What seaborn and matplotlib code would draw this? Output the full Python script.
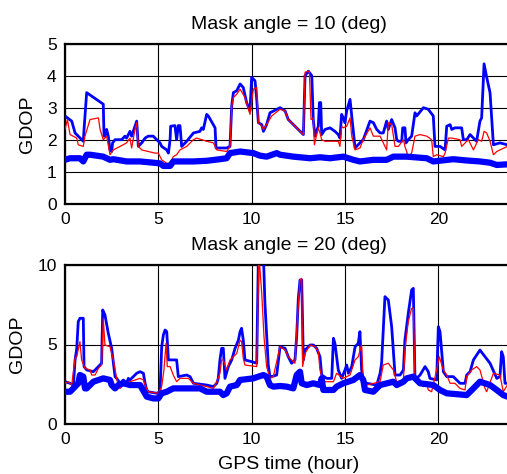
import numpy as np
import pandas as pd
import matplotlib
matplotlib.use("Agg")
import matplotlib.pyplot as plt
import seaborn as sns

# ---------------- data (GPS time in hours, GDOP) ----------------
# Mask angle = 10 deg
m10_thin_t = [0.00, 0.36, 0.54, 0.98, 1.02, 1.16, 2.05, 2.09, 2.14, 2.23, 2.32, 2.41, 2.50, 2.55, 2.68,
              3.04, 3.21, 3.30, 3.48, 3.57, 3.75, 3.84, 3.93, 4.11, 4.29, 4.46, 4.73, 4.91, 5.09, 5.18,
              5.45, 5.54, 5.63, 5.66, 5.89, 5.98, 6.07, 6.16, 6.25, 6.52, 6.88, 7.23, 7.32, 7.41, 7.59,
              7.68, 8.04, 8.09, 8.66, 8.84, 8.93, 9.02, 9.20, 9.38, 9.55, 9.73, 9.91, 10.00, 10.18, 10.27,
              10.36, 10.54, 10.63, 10.80, 10.98, 11.52, 11.79, 11.96, 12.41, 12.77, 12.86, 13.04, 13.22,
              13.30, 13.39, 13.57, 13.63, 13.70, 13.75, 13.93, 14.20, 14.46, 14.64, 14.73, 14.82, 14.91,
              15.00, 15.09, 15.27, 15.36, 15.54, 15.80, 15.98, 16.34, 16.52, 16.70, 16.88, 17.05, 17.23,
              17.32, 17.50, 17.68, 17.77, 17.86, 18.04, 18.09, 18.21, 18.27, 18.39, 18.57, 18.75, 18.84,
              19.20, 19.46, 19.73, 19.82, 20.09, 20.36, 20.45, 20.63, 20.72, 20.89, 21.25, 21.34, 21.52,
              21.70, 21.88, 22.05, 22.23, 22.32, 22.45, 22.59, 22.77, 22.95, 23.30, 23.70]
m10_thin_g = [2.75, 2.59, 2.22, 1.96, 2.33, 3.48, 3.12, 2.12, 2.12, 2.33, 2.12, 1.69, 1.64, 1.91, 2.01,
              2.01, 2.12, 2.06, 2.27, 2.12, 2.43, 2.59, 1.80, 1.91, 2.06, 2.12, 2.12, 2.01, 1.91, 1.80,
              1.69, 1.59, 2.01, 2.43, 2.45, 2.01, 2.45, 2.45, 1.80, 1.96, 2.22, 2.27, 2.38, 2.33, 2.80,
              2.75, 2.38, 1.75, 1.75, 1.80, 3.06, 3.48, 3.54, 3.75, 3.64, 3.17, 2.91, 3.96, 3.85, 3.27,
              2.54, 2.48, 2.27, 2.48, 2.85, 3.01, 2.91, 2.64, 2.38, 2.17, 4.01, 4.15, 4.01,
              2.64, 2.12, 2.43, 3.17, 3.17, 2.17, 2.33, 2.38, 2.27, 2.17, 2.06, 2.80, 2.69,
              2.54, 2.91, 3.27, 2.75, 1.75, 1.91, 2.01, 2.59, 2.54, 2.33, 2.22, 2.22, 2.59,
              2.33, 2.64, 2.38, 2.01, 1.96, 1.96, 2.38, 2.38, 1.91, 2.01, 2.12, 2.85, 2.75,
              3.01, 2.96, 2.75, 1.80, 1.80, 1.69, 2.43, 2.48, 2.33, 2.38, 2.38, 2.01, 2.01,
              2.17, 2.06, 1.96, 2.59, 2.69, 4.38, 3.96, 3.48, 1.85, 1.91, 1.85]

m10_red_t = [0.00, 0.13, 0.27, 0.63, 0.71, 0.98, 1.07, 1.34, 1.79, 1.88, 2.05, 2.23, 2.41, 2.59, 2.95,
             3.30, 3.48, 3.57, 3.75, 3.84, 3.93, 4.11, 4.82, 5.00, 5.18, 5.45, 5.63, 5.80, 5.98, 6.16,
             6.52, 6.88, 7.05, 7.59, 7.95, 8.13, 8.66, 8.84, 8.93, 9.02, 9.20, 9.38, 9.64, 9.91, 10.09,
             10.27, 10.36, 10.54, 10.63, 10.80, 11.07, 11.52, 11.79, 11.96, 12.77, 12.86, 13.09, 13.18,
             13.30, 13.36, 13.57, 13.66, 13.75, 13.93, 14.64, 14.73, 14.82, 14.91, 15.09, 15.27, 15.36,
             15.54, 15.80, 15.98, 16.34, 16.52, 16.88, 17.23, 17.32, 17.50, 17.68, 17.86, 18.13, 18.21,
             18.39, 18.57, 18.75, 19.02, 19.38, 19.64, 19.73, 19.91, 20.27, 20.36, 20.54, 20.72, 21.16,
             21.25, 21.61, 21.88, 22.14, 22.32, 22.45, 22.59, 22.77, 22.95, 23.13, 23.30, 23.70]
m10_red_g = [2.33, 2.64, 2.17, 2.06, 1.85, 1.80, 2.12, 2.64, 2.69, 2.33, 2.01, 2.12, 1.54, 1.69, 1.80,
             1.91, 2.06, 1.75, 2.33, 2.54, 1.80, 1.69, 1.59, 1.59, 1.38, 1.27, 1.27, 1.48, 1.54, 1.69,
             1.80, 2.01, 2.06, 1.96, 1.91, 1.69, 1.64, 1.80, 3.06, 3.33, 3.43, 3.59, 3.33, 2.80, 3.59,
             3.64, 2.54, 2.43, 2.33, 2.48, 2.75, 2.96, 2.91, 2.64, 2.17, 4.12, 4.15, 2.64,
             2.69, 1.85, 2.38, 2.22, 2.01, 1.96, 1.96, 1.80, 2.43, 2.38, 2.43, 2.69, 2.12,
             1.69, 1.75, 2.01, 2.38, 2.12, 2.12, 1.69, 2.54, 2.48, 1.80, 1.80, 2.01, 1.80,
             1.48, 1.59, 2.12, 2.17, 2.12, 2.01, 1.48, 1.54, 1.48, 1.59, 2.06, 2.06, 2.01,
             1.80, 2.01, 1.69, 2.01, 1.96, 2.27, 2.22, 1.96, 1.54, 1.64, 1.69, 1.80]

m10_thick_t = [0.00, 0.27, 0.80, 0.98, 1.16, 1.34, 2.05, 2.41, 2.59, 3.30, 4.02, 5.09, 5.27, 5.63, 5.80,
               6.88, 7.59, 8.30, 8.66, 8.84, 9.38, 10.09, 10.45, 10.80, 11.34, 11.52, 12.23, 13.13,
               13.66, 14.20, 14.91, 15.45, 15.80, 16.52, 17.23, 17.59, 18.30, 19.38, 19.73, 20.80,
               21.52, 22.23, 22.77, 23.13, 23.70]
m10_thick_g = [1.38, 1.43, 1.43, 1.33, 1.54, 1.54, 1.48, 1.38, 1.40, 1.33, 1.33, 1.27, 1.19, 1.19, 1.33,
               1.33, 1.35, 1.40, 1.43, 1.59, 1.64, 1.59, 1.51, 1.48, 1.59, 1.54, 1.48, 1.43,
               1.46, 1.43, 1.48, 1.38, 1.33, 1.38, 1.38, 1.48, 1.48, 1.43, 1.33, 1.40,
               1.36, 1.33, 1.29, 1.22, 1.24]

# Mask angle = 20 deg
m20_thin_t = [0.00, 0.27, 0.45, 0.54, 0.63, 0.71, 0.80, 0.98, 1.02, 1.16, 1.52, 1.79, 1.96, 2.02, 2.14,
              2.32, 2.50, 2.68, 2.77, 2.95, 3.13, 3.30, 3.39, 3.48, 3.66, 3.84, 4.02, 4.20, 4.29, 4.38,
              4.46, 4.91, 5.09, 5.18, 5.27, 5.36, 5.45, 5.54, 5.98, 6.07, 6.52, 6.70, 6.88, 7.59, 7.95,
              8.13, 8.21, 8.30, 8.39, 8.48, 8.57, 8.75, 8.93, 9.11, 9.29, 9.38, 9.46, 9.55, 9.64, 10.00,
              10.27, 10.36, 10.63, 10.71, 10.89, 10.98, 11.07, 11.34, 11.52, 11.79, 11.96, 12.14, 12.32,
              12.41, 12.50, 12.59, 12.68, 12.77, 12.86, 13.13, 13.30, 13.48, 13.66, 13.75, 14.02, 14.29,
              14.38, 14.46, 14.64, 14.82, 15.00, 15.09, 15.18, 15.36, 15.54, 15.71, 15.80, 15.89, 15.98,
              16.16, 16.70, 16.88, 16.96, 17.14, 17.32, 17.50, 17.68, 17.95, 18.13, 18.21, 18.39, 18.57,
              18.66, 18.75, 19.02, 19.29, 19.46, 19.55, 19.91, 20.00, 20.09, 20.18, 20.27, 20.45, 20.80,
              21.16, 21.43, 21.52, 21.70, 21.88, 22.23, 22.50, 22.77, 23.13, 23.30, 23.39, 23.48, 23.57,
              23.70]
m20_thin_g = [2.66, 2.56, 2.45, 4.03, 4.76, 6.44, 6.65, 6.65, 3.61, 3.40, 3.29, 3.61, 3.82, 7.17, 6.86,
              5.70, 4.76, 2.98, 2.87, 2.56, 2.77, 2.56, 2.87, 2.77, 2.98, 3.19, 3.29, 3.19, 2.56, 2.14,
              2.03, 1.93, 2.03, 4.86, 5.60, 5.91, 5.81, 4.03, 4.03, 2.98, 3.08, 2.98, 2.56, 2.45, 2.35,
              2.56, 2.87, 4.03, 4.76, 4.76, 2.87, 3.61, 4.03, 4.76, 5.28, 5.81, 6.02, 5.28, 4.03, 3.92,
              3.82, 10.6, 10.6, 7.59, 3.71, 2.98, 2.98, 3.08, 4.86, 4.76, 4.23, 3.82, 4.03,
              5.49, 7.90, 9.06, 9.06, 4.03, 4.65, 4.97, 4.97, 4.76, 4.23, 3.08, 2.87, 2.87,
              5.39, 5.07, 3.40, 2.87, 3.40, 3.71, 3.19, 3.61, 4.86, 5.07, 5.81, 3.40, 2.77,
              2.56, 2.45, 3.19, 3.82, 8.01, 7.80, 6.12, 3.08, 3.08, 3.40, 5.28, 6.96, 8.43,
              8.53, 2.77, 3.08, 3.61, 3.29, 2.87, 2.77, 6.12, 5.81, 4.55, 3.29, 2.98, 2.98,
              2.56, 2.56, 3.08, 3.29, 4.03, 4.65, 4.23, 3.82, 2.87, 2.98, 4.55, 4.23, 2.56,
              2.56]

m20_red_t = [0.00, 0.18, 0.36, 0.54, 0.63, 0.80, 0.89, 1.07, 1.34, 1.43, 1.61, 1.79, 1.96, 2.05, 2.14,
             2.41, 2.59, 2.77, 2.86, 2.95, 3.13, 3.48, 4.02, 4.20, 4.29, 4.46, 5.00, 5.18, 5.30, 5.41,
             5.48, 5.63, 5.80, 5.98, 6.16, 6.61, 6.88, 7.59, 7.95, 8.13, 8.30, 8.39, 8.48, 8.66, 8.84,
             9.20, 9.38, 9.46, 9.55, 9.64, 10.27, 10.39, 10.54, 10.66, 10.80, 10.98, 11.16, 11.52, 11.79,
             11.96, 12.32, 12.41, 12.59, 12.68, 12.73, 12.86, 13.13, 13.39, 13.57, 13.66, 13.84, 14.38,
             14.55, 14.91, 15.27, 15.54, 15.71, 15.89, 15.98, 16.16, 16.88, 17.05, 17.32, 17.59, 17.77,
             18.13, 18.21, 18.39, 18.57, 18.66, 18.75, 19.02, 19.20, 19.38, 19.46, 19.64, 19.91, 20.05,
             20.27, 20.45, 20.63, 20.89, 21.16, 21.43, 21.52, 21.79, 22.05, 22.23, 22.50, 22.59, 22.95,
             23.30, 23.48, 23.70]
m20_red_g = [2.56, 2.66, 2.45, 4.13, 4.23, 5.18, 4.03, 3.50, 3.40, 3.08, 3.08, 3.50, 3.71, 6.65, 4.97,
             4.86, 4.03, 2.87, 2.35, 2.24, 2.45, 2.66, 2.87, 2.77, 2.45, 2.03, 1.93, 2.35, 3.40, 5.07,
             3.61, 3.61, 3.08, 2.66, 2.87, 2.87, 2.56, 2.35, 2.24, 2.66, 3.19, 4.03, 4.03, 3.40, 4.03,
             4.44, 5.28, 5.18, 4.13, 3.71, 3.61, 10.6, 8.22, 5.49, 3.61, 2.87, 2.98, 4.86, 4.65,
             4.23, 3.82, 5.91, 9.06, 9.16, 3.61, 4.44, 4.97, 4.86, 4.55, 3.40, 2.66, 2.66,
             3.19, 2.87, 3.08, 4.03, 4.23, 4.97, 2.56, 2.45, 2.66, 3.71, 3.82, 3.40, 2.66,
             2.77, 4.65, 6.44, 7.27, 7.27, 2.87, 2.56, 2.35, 2.56, 2.14, 2.03, 3.40, 4.23,
             3.40, 3.08, 2.56, 2.56, 2.24, 2.14, 2.98, 3.40, 3.61, 3.40, 2.24, 2.03, 3.19,
             3.08, 2.03, 2.45]

m20_thick_t = [0.00, 0.27, 0.45, 0.71, 0.80, 0.98, 1.07, 1.16, 1.52, 2.05, 2.41, 2.50, 2.68, 2.86, 3.13,
               3.48, 4.02, 4.38, 4.73, 5.00, 5.18, 5.45, 5.80, 7.23, 7.59, 8.30, 8.48, 8.66, 8.84, 9.20,
               9.38, 10.09, 10.36, 10.63, 10.80, 10.98, 11.16, 11.52, 11.88, 12.23, 12.41, 12.59, 12.68,
               12.95, 13.30, 13.66, 13.75, 13.84, 14.38, 14.55, 14.91, 15.45, 15.80, 15.98, 16.07, 16.52,
               16.70, 16.88, 17.59, 17.77, 18.13, 18.30, 18.66, 19.02, 19.73, 20.09, 20.45, 21.52, 21.88,
               22.23, 22.77, 23.13, 23.48, 23.70]
m20_thick_g = [2.03, 2.03, 2.24, 2.56, 3.08, 2.98, 2.24, 2.24, 2.66, 2.87, 2.77, 2.45, 2.24, 2.45, 2.56,
               2.45, 2.45, 1.72, 1.61, 1.61, 1.93, 2.03, 2.24, 2.24, 2.03, 2.03, 1.82, 1.93, 2.35, 2.45,
               2.77, 2.87, 2.98, 3.08, 2.98, 2.45, 2.35, 2.39, 2.35, 2.24, 3.08, 3.29, 2.56,
               2.45, 2.56, 2.45, 2.87, 2.14, 2.14, 2.35, 2.56, 2.77, 3.08, 2.77, 2.14, 2.03,
               2.24, 2.45, 2.66, 2.45, 2.66, 2.87, 2.98, 2.56, 2.45, 2.14, 1.93, 1.82, 2.24,
               2.66, 2.45, 2.14, 1.82, 1.72]

panel_titles = ["Mask angle = 10 (deg)", "Mask angle = 20 (deg)"]
x_ticks = [0, 5, 10, 15, 20]
y_ticks = [[0, 1, 2, 3, 4, 5], [0, 5, 10]]
y_limits = [(0, 5), (0, 10)]
x_limits = (0, 24)

# ---------------- style ----------------
sns.set_theme(style="white")
plt.rcParams["font.family"] = ["Liberation Sans", "DejaVu Sans"]

W, H = 507, 474
fig = plt.figure(figsize=(W / 100, H / 100), dpi=100)
fig.patch.set_facecolor("white")

left = 65 / W
width = (513 - 65) / W
ax_top = fig.add_axes([left, 1 - 204 / H, width, 160 / H])
ax_bot = fig.add_axes([left, 1 - 424 / H, width, 159 / H])

panels = [
    (ax_top, (m10_thin_t, m10_thin_g), (m10_red_t, m10_red_g), (m10_thick_t, m10_thick_g)),
    (ax_bot, (m20_thin_t, m20_thin_g), (m20_red_t, m20_red_g), (m20_thick_t, m20_thick_g)),
]

for i, (ax, thin, red, thick) in enumerate(panels):
    ax.set_facecolor("white")
    d_thin = pd.DataFrame({"t": thin[0], "g": thin[1]})
    d_red = pd.DataFrame({"t": red[0], "g": red[1]})
    d_thick = pd.DataFrame({"t": thick[0], "g": thick[1]})
    sns.lineplot(data=d_thin, x="t", y="g", ax=ax, color="#0000ff", linewidth=2.0,
                 estimator=None, sort=False, zorder=3)
    sns.lineplot(data=d_red, x="t", y="g", ax=ax, color="#ff0000", linewidth=0.9,
                 estimator=None, sort=False, zorder=4)
    sns.lineplot(data=d_thick, x="t", y="g", ax=ax, color="#0000ff", linewidth=4.5,
                 estimator=None, sort=False, zorder=5)
    ax.set_xlim(*x_limits)
    ax.set_ylim(*y_limits[i])
    ax.set_xticks(x_ticks)
    ax.set_yticks(y_ticks[i])
    ax.grid(True, color="black", linewidth=0.8)
    ax.set_axisbelow(True)
    ax.tick_params(axis="both", length=0, labelsize=12.5, pad=6, colors="black")
    for s in ax.spines.values():
        s.set_color("black")
        s.set_linewidth(1.6)
    ax.set_title(panel_titles[i], fontsize=14, pad=10.5, color="black")
    ax.set_ylabel("GDOP", fontsize=14, color="black", labelpad=8)
    ax.set_xlabel("")

ax_bot.set_xlabel("GPS time (hour)", fontsize=14, color="black", labelpad=6)

fig.savefig("out.png", dpi=100, facecolor="white")
